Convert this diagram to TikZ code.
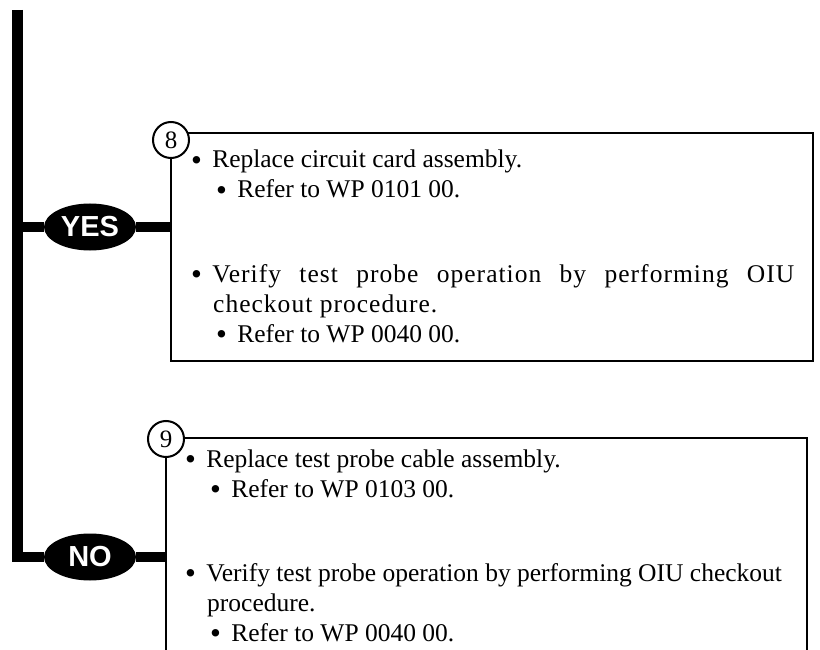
\documentclass[tikz,border=0pt]{standalone}
\usepackage{fontspec}
\setmainfont{Liberation Serif}
\newfontfamily\labelfont{Liberation Sans}
\newfontfamily\spacedfont[LetterSpace=4]{Liberation Serif}
\usetikzlibrary{shapes.geometric}
\newcommand{\bul}{\raisebox{-2.5pt}{\fontsize{31}{30}\selectfont\textbullet}\hspace{0.4em}}
\tikzset{
  trunk/.style={line width=11pt},
  branch/.style={line width=10pt},
  boxline/.style={line width=2.5pt},
  oval/.style={ellipse, fill=black, minimum width=92pt, minimum height=47pt, inner sep=0pt,
    text=white, font=\labelfont\bfseries\fontsize{29}{29}\selectfont},
  num/.style={circle, draw, fill=white, line width=2pt, minimum size=36pt, inner sep=0pt,
    font=\fontsize{25}{25}\selectfont},
  txt/.style={anchor=base west, inner sep=0pt, font=\fontsize{25.5}{30}\selectfont}
}
\begin{document}
\begin{tikzpicture}[x=1pt,y=-1pt]
\useasboundingbox (0,0) rectangle (820,650);
% trunk
\coordinate (bartop) at (17.5,10);
\coordinate (barbot) at (17.5,562);
\draw[trunk] (bartop) -- (barbot);
% YES branch
\node[oval] (yes) at (90,227) {YES};
\coordinate (yesL) at (17.5,227);
\coordinate (yesR) at (170,227);
\draw[branch] (yesL) -- (yes);
\draw[branch] (yes) -- (yesR);
% NO branch
\node[oval] (no) at (90,557) {NO};
\coordinate (noL) at (17.5,557);
\coordinate (noR) at (165,557);
\draw[branch] (noL) -- (no);
\draw[branch] (no) -- (noR);
% box 8
\coordinate (b8tl) at (171,133);
\coordinate (b8tr) at (813,133);
\coordinate (b8br) at (813,361);
\coordinate (b8bl) at (171,361);
\coordinate (b8c) at (171,140);
\draw[boxline] (b8c) -- (b8bl) -- (b8br) -- (b8tr) -- (b8tl);
\node[num] (c8) at (171,140) {8};
% box 9
\coordinate (b9tl) at (166,438);
\coordinate (b9tr) at (807,438);
\coordinate (b9br) at (807,660);
\coordinate (b9bl) at (166,660);
\coordinate (b9c) at (166,439);
\draw[boxline] (b9tl) -- (b9tr) -- (b9br);
\draw[boxline] (b9c) -- (b9bl);
\node[num] (c9) at (166,439) {9};
% text box 8
\node[txt] (t81) at (191,168) {\bul Replace circuit card assembly.};
\node[txt] (t82) at (216,198) {\bul Refer to WP 0101 00.};
\node[txt] (t83) at (191,282) {\bul\makebox[582pt][s]{\spacedfont Verify test probe operation by performing OIU}};
\node[txt] (t84) at (213,312) {\spacedfont checkout procedure.};
\node[txt] (t85) at (216,342) {\bul Refer to WP 0040 00.};
% text box 9
\node[txt] (t91) at (185,467) {\bul Replace test probe cable assembly.};
\node[txt] (t92) at (210,497) {\bul Refer to WP 0103 00.};
\node[txt] (t93) at (185,581) {\bul Verify test probe operation by performing OIU checkout};
\node[txt] (t94) at (207,611) {procedure.};
\node[txt] (t95) at (210,641) {\bul Refer to WP 0040 00.};
\end{tikzpicture}
\end{document}
